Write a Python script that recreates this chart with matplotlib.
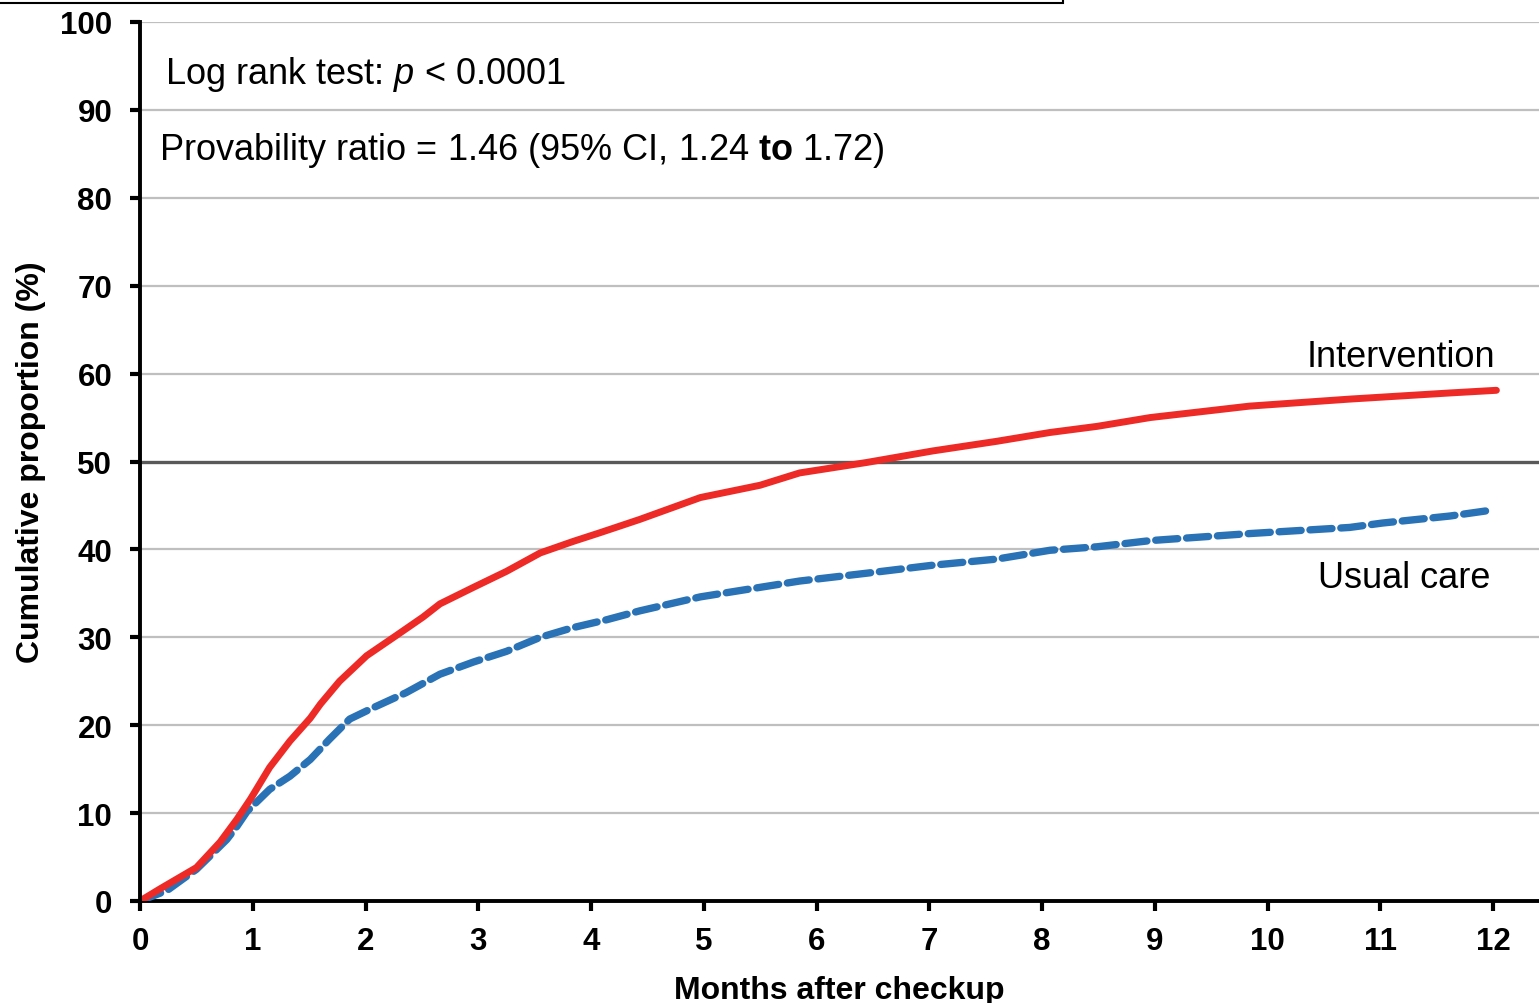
import matplotlib
matplotlib.use("Agg")
import matplotlib.pyplot as plt
from matplotlib.patches import Rectangle

plt.rcParams['font.family'] = ['Liberation Sans', 'DejaVu Sans']
plt.rcParams['mathtext.fontset'] = 'custom'
plt.rcParams['mathtext.rm'] = 'Liberation Sans'
plt.rcParams['mathtext.it'] = 'Liberation Sans:italic'
plt.rcParams['mathtext.bf'] = 'Liberation Sans:bold'

# ---- data ----
months_intervention = [0, 0.18, 0.5, 0.71, 0.86, 0.98, 1.15, 1.33, 1.51, 1.6, 1.77, 2.01, 2.25,
                       2.51, 2.66, 2.96, 3.25, 3.55, 3.84, 4.08, 4.43, 4.97, 5.5, 5.85, 6.45,
                       7.03, 7.6, 8.07, 8.49, 8.96, 9.84, 10.73, 11.62, 12.03]
prop_intervention = [0, 1.4, 3.8, 6.7, 9.3, 11.6, 15.2, 18.2, 20.8, 22.4, 25.0, 27.9, 30.0,
                     32.3, 33.8, 35.7, 37.5, 39.6, 40.9, 41.9, 43.4, 45.9, 47.3, 48.7, 49.9,
                     51.2, 52.3, 53.3, 54.0, 55.0, 56.3, 57.1, 57.8, 58.1]
months_usual = [0, 0.24, 0.38, 0.5, 0.62, 0.77, 0.86, 0.95, 1.15, 1.33, 1.51, 1.68, 1.86,
                2.07, 2.36, 2.66, 2.96, 3.25, 3.55, 3.84, 4.14, 4.43, 4.97, 5.85, 6.45,
                7.03, 7.6, 8.07, 8.49, 8.96, 9.84, 10.73, 11.02, 11.62, 11.95]
prop_usual = [0, 1.2, 2.5, 3.6, 5.1, 7.0, 8.5, 10.2, 12.7, 14.2, 16.1, 18.4, 20.7,
              22.0, 23.7, 25.8, 27.2, 28.4, 30.0, 31.1, 32.0, 33.0, 34.6, 36.4, 37.3,
              38.2, 38.9, 39.9, 40.3, 41.0, 41.8, 42.5, 43.0, 43.8, 44.4]
x_ticks = list(range(0, 13))
y_ticks = list(range(0, 101, 10))

W, H = 1539, 1004
fig = plt.figure(figsize=(W / 100, H / 100), dpi=100)
ax = fig.add_axes([140 / W, 102 / H, 1399 / W, 879 / H])

for y in y_ticks[1:]:
    if y == 50:
        continue
    ax.axhline(y, color='#bfbfbf', lw=1.6, zorder=1)
ax.axhline(50, color='#595959', lw=2.4, zorder=2)

ax.plot(months_intervention, prop_intervention, color='#ee2a27', lw=5, zorder=4,
        solid_capstyle='round', solid_joinstyle='round')
ax.plot(months_usual, prop_usual, color='#2a72b6', lw=5.3, zorder=3,
        linestyle=(0, (3.0, 1.2)), dash_capstyle='round')

ax.set_xlim(0, 1399 / 112.75)
ax.set_ylim(0, 100)
ax.set_xticks(x_ticks)
ax.set_yticks(y_ticks)
ax.tick_params(axis='both', direction='out', length=7, width=3, labelsize=22.5)
ax.tick_params(axis='x', pad=11)
ax.tick_params(axis='y', pad=13)
for lab in ax.get_xticklabels() + ax.get_yticklabels():
    lab.set_fontweight('bold')
for s in ['top', 'right']:
    ax.spines[s].set_visible(False)
for s in ['left', 'bottom']:
    ax.spines[s].set_linewidth(2.8)
ax.spines['left'].set_zorder(5)

ax.set_xlabel('Months after checkup', fontsize=23, fontweight='bold', labelpad=14)
ax.set_ylabel('Cumulative proportion (%)', fontsize=23, fontweight='bold', labelpad=10)

ax.text(0.22, 94.1, r'Log rank test: $\mathit{p}$ < 0.0001', fontsize=26, va='center', ha='left')
ax.text(0.17, 85.5, r'Provability ratio = 1.46 (95% CI, 1.24 $\mathbf{to}$ 1.72)',
        fontsize=26, va='center', ha='left')
ax.text(12.02, 61.9, 'Intervention', fontsize=26, va='center', ha='right')
ax.text(11.98, 36.8, 'Usual care', fontsize=26, va='center', ha='right')

fig.patches.append(Rectangle((-0.01, 1 - 3.5 / H), 1063 / W + 0.01, 0.1,
                             transform=fig.transFigure, fill=False,
                             edgecolor='black', lw=1.5))

fig.savefig('out.png', dpi=100)
